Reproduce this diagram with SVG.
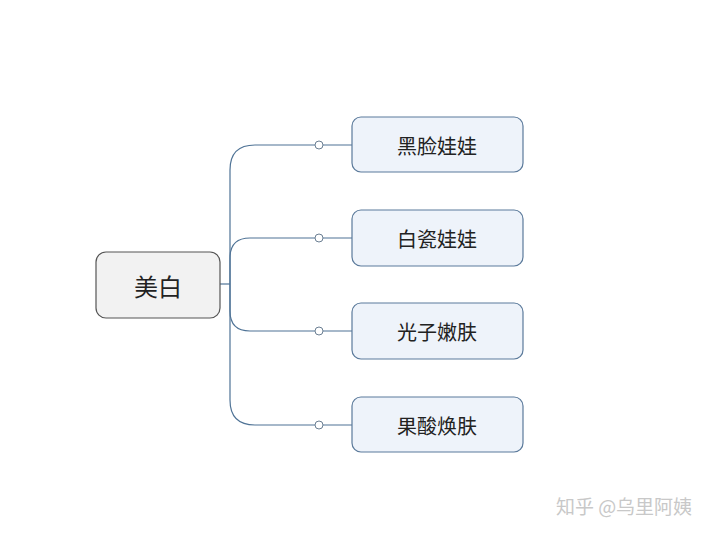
<svg xmlns="http://www.w3.org/2000/svg" width="720" height="535" viewBox="0 0 720 535">
<style>
text{font-family:"Noto Sans CJK SC","Noto Sans",sans-serif;fill:#222;text-anchor:middle;dominant-baseline:central}
.c{fill:#eef3fa;stroke:#5b7a9b;stroke-width:1.2}
.l{fill:none;stroke:#4f7396;stroke-width:1.2}
.d{fill:#fff;stroke:#6b7f93;stroke-width:1}
</style>
<rect width="720" height="535" fill="#fff"/>
<g id="connectors">
<path class="l" d="M220 284H230"/>
<path class="l" d="M230 284V170Q230 145 255 145H352"/>
<path class="l" d="M230 284V258Q230 238 250 238H352"/>
<path class="l" d="M230 284V311Q230 331 250 331H352"/>
<path class="l" d="M230 284V400Q230 425 255 425H352"/>
<circle class="d" cx="319" cy="145" r="4"/>
<circle class="d" cx="319" cy="238" r="4"/>
<circle class="d" cx="319" cy="331" r="4"/>
<circle class="d" cx="319" cy="425" r="4"/>
</g>
<g id="root"><rect x="96" y="252" width="124" height="66" rx="10" fill="#f2f2f2" stroke="#555" stroke-width="1.2"/><text x="158" y="285" font-size="24">美白</text></g>
<g id="n1"><rect class="c" x="352" y="117" width="171" height="55" rx="9"/><text x="437" y="145" font-size="20">黑脸娃娃</text></g>
<g id="n2"><rect class="c" x="352" y="210" width="171" height="56" rx="9"/><text x="437" y="238" font-size="20">白瓷娃娃</text></g>
<g id="n3"><rect class="c" x="352" y="303" width="171" height="56" rx="9"/><text x="437" y="331" font-size="20">光子嫩肤</text></g>
<g id="n4"><rect class="c" x="352" y="397" width="171" height="55" rx="9"/><text x="437" y="425" font-size="20">果酸焕肤</text></g>
<text x="624" y="505" font-size="19" style="fill:#c8c8c8">知乎 @乌里阿姨</text>
</svg>
